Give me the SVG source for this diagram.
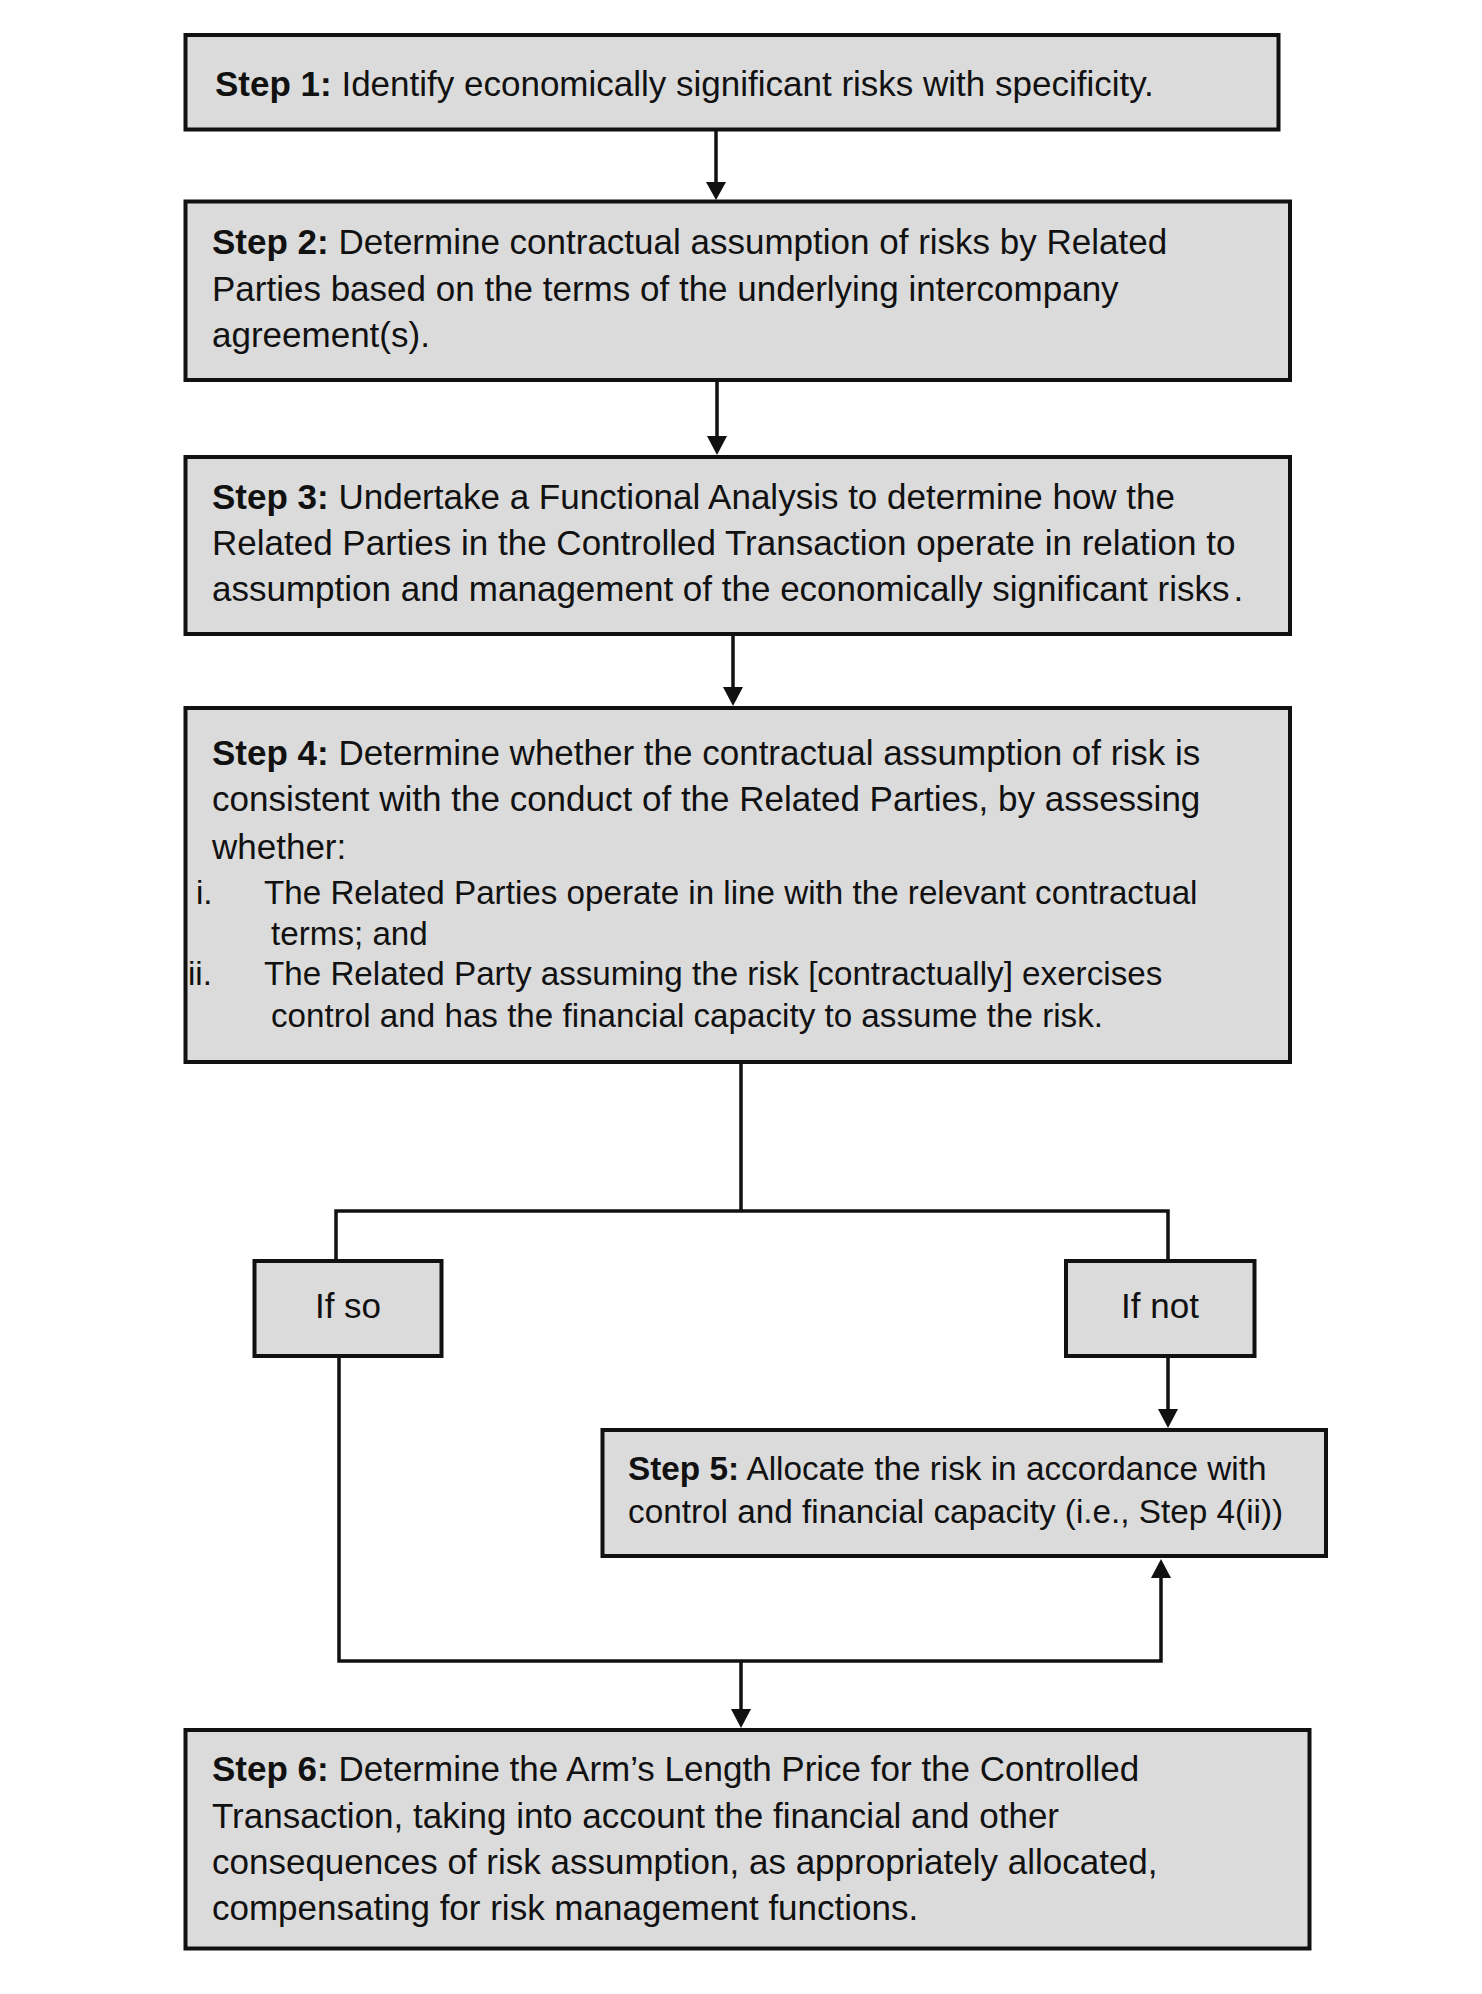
<svg xmlns="http://www.w3.org/2000/svg" width="1482" height="1994" viewBox="0 0 1482 1994">
<style>
.box{fill:#dbdbdb;stroke:#111;stroke-width:4}
.t{font-family:"Liberation Sans",Arial,sans-serif;font-size:35px;fill:#111}
.l{font-size:33.2px}
.s5{font-size:33.3px}
.b{font-weight:bold}
.c{fill:none;stroke:#111;stroke-width:3.5}
.h{fill:#111}
</style>
<rect width="1482" height="1994" fill="#fff"/>
<g id="connectors">
<path class="c" d="M716 131V184"/><polygon class="h" points="706,182 726,182 716,200"/>
<path class="c" d="M717 382V438"/><polygon class="h" points="707,436 727,436 717,455"/>
<path class="c" d="M733 636V689"/><polygon class="h" points="723,687 743,687 733,706"/>
<path class="c" d="M741 1064V1211M336 1259V1211H1168V1259"/>
<path class="c" d="M1168 1358V1411"/><polygon class="h" points="1158,1409 1178,1409 1168,1428"/>
<path class="c" d="M339 1358V1661H1161V1576"/><polygon class="h" points="1151,1578 1171,1578 1161,1559"/>
<path class="c" d="M741 1661V1711"/><polygon class="h" points="731,1709 751,1709 741,1728"/>
</g>
<g id="step1"><rect class="box" x="185.5" y="35" width="1093" height="94.5"/>
<text class="t" x="215" y="96"><tspan class="b">Step 1:</tspan> Identify economically significant risks with specificity.</text></g>
<g id="step2"><rect class="box" x="185.5" y="201.5" width="1104.5" height="178.5"/>
<text class="t" x="212" y="254"><tspan class="b">Step 2:</tspan> Determine contractual assumption of risks by Related</text>
<text class="t" x="212" y="301">Parties based on the terms of the underlying intercompany</text>
<text class="t" x="212" y="347">agreement(s).</text></g>
<g id="step3"><rect class="box" x="185.5" y="457" width="1104.5" height="177"/>
<text class="t" x="212" y="509"><tspan class="b">Step 3:</tspan> Undertake a Functional Analysis to determine how the</text>
<text class="t" x="212" y="555">Related Parties in the Controlled Transaction operate in relation to</text>
<text class="t" x="212" y="601">assumption and management of the economically significant risks<tspan dx="4">.</tspan></text></g>
<g id="step4"><rect class="box" x="185.5" y="708" width="1104.5" height="354"/>
<text class="t" x="212" y="765"><tspan class="b">Step 4:</tspan> Determine whether the contractual assumption of risk is</text>
<text class="t" x="212" y="811">consistent with the conduct of the Related Parties, by assessing</text>
<text class="t" x="212" y="859">whether:</text>
<text class="t l" x="196" y="904">i.</text>
<text class="t l" x="264" y="904">The Related Parties operate in line with the relevant contractual</text>
<text class="t l" x="271" y="945">terms; and</text>
<text class="t l" x="188" y="985">ii.</text>
<text class="t l" x="264" y="985">The Related Party assuming the risk [contractually] exercises</text>
<text class="t l" x="271" y="1027">control and has the financial capacity to assume the risk.</text></g>
<g id="ifso"><rect class="box" x="254.5" y="1261" width="187" height="95"/>
<text class="t" x="348" y="1318" text-anchor="middle">If so</text></g>
<g id="ifnot"><rect class="box" x="1066" y="1261" width="188.5" height="95"/>
<text class="t" x="1160" y="1318" text-anchor="middle">If not</text></g>
<g id="step5"><rect class="box" x="602.5" y="1430" width="723.5" height="126"/>
<text class="t s5" x="628" y="1480"><tspan class="b">Step 5:</tspan> Allocate the risk in accordance with</text>
<text class="t s5" x="628" y="1523">control and financial capacity (i.e., Step 4(ii))</text></g>
<g id="step6"><rect class="box" x="185.5" y="1730" width="1124" height="218.5"/>
<text class="t" x="212" y="1781"><tspan class="b">Step 6:</tspan> Determine the Arm’s Length Price for the Controlled</text>
<text class="t" x="212" y="1828">Transaction, taking into account the financial and other</text>
<text class="t" x="212" y="1874">consequences of risk assumption, as appropriately allocated,</text>
<text class="t" x="212" y="1920">compensating for risk management functions.</text></g>
</svg>
